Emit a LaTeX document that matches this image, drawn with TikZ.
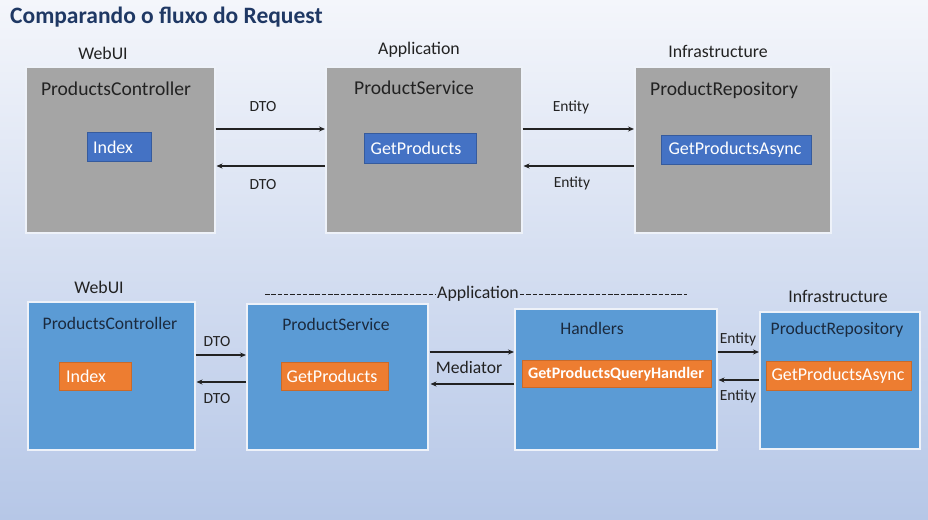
\documentclass[tikz,border=0pt]{standalone}
\usepackage{fontspec}
\setmainfont{Carlito}
\usetikzlibrary{arrows.meta}
\definecolor{bgtop}{HTML}{F4F6FB}
\definecolor{bgbot}{HTML}{B6C7E7}
\definecolor{graybox}{HTML}{A5A5A5}
\definecolor{bluebox}{HTML}{5B9BD5}
\definecolor{innerblue}{HTML}{4472C4}
\definecolor{orangebox}{HTML}{ED7D31}
\definecolor{titlecol}{HTML}{1F3864}
\definecolor{txtdark}{HTML}{222222}
\definecolor{txtnavy}{HTML}{1B2A3E}
\definecolor{boxline}{HTML}{EEF2F9}
\newcommand{\fs}[1]{\fontsize{#1}{#1}\selectfont}
\tikzset{
  grayblk/.style={draw=boxline, line width=1.5pt, fill=graybox, inner sep=0pt, anchor=north west},
  blueblk/.style={draw=boxline, line width=1.5pt, fill=bluebox, inner sep=0pt, anchor=north west},
  innerb/.style={fill=innerblue, draw=innerblue!80!black, line width=0.4pt, inner sep=0pt, anchor=north west},
  innero/.style={fill=orangebox, draw=orangebox!85!black, line width=0.4pt, inner sep=0pt, anchor=north west},
  innertxt/.style={text=white, font=\fs{18}, inner sep=0pt},
  layerlbl/.style={text=txtdark, font=\fs{17.8}, inner sep=0pt},
  ttlgray/.style={text=txtdark, font=\fs{19.6}, inner sep=0pt},
  ttlblue/.style={text=txtnavy, font=\fs{17.6}, inner sep=0pt},
  arlbl/.style={text=txtdark, font=\fs{15.5}, inner sep=0pt},
  arr/.style={draw=txtdark, line width=1.3pt, -{Stealth[length=6pt,width=5pt]}},
}
\begin{document}
\begin{tikzpicture}[x=1pt,y=-1pt]
\useasboundingbox (0,0) rectangle (928,519);
\shade[top color=bgtop, bottom color=bgbot, middle color=bgtop!50!bgbot] (0,0) rectangle (928,519);

% Title
\node[anchor=west, text=titlecol, font=\fs{23.5}\bfseries, inner sep=0pt] (title) at (10,17) {Comparando o fluxo do Request};

% ---------- Top row ----------
\node[layerlbl] (tlw) at (103,53) {WebUI};
\node[layerlbl] (tla) at (419,50) {Application};
\node[layerlbl] (tli) at (718,51) {Infrastructure};

\node[grayblk, minimum width=189pt, minimum height=166pt] (tc) at (25,66) {};
\node[grayblk, minimum width=196pt, minimum height=166pt] (ts) at (325,66) {};
\node[grayblk, minimum width=196pt, minimum height=166pt] (tr) at (634,66) {};

\node[ttlgray] (tct) at (116,89) {ProductsController};
\node[ttlgray] (tst) at (414,88) {ProductService};
\node[ttlgray] (trt) at (724,90) {ProductRepository};

\node[innerb, minimum width=64pt, minimum height=29pt] (tidx) at (87,132) {};
\node[innertxt] at (113,147) {Index};
\node[innerb, minimum width=112pt, minimum height=30pt] (tgp) at (364,133) {};
\node[innertxt] at (416,148) {GetProducts};
\node[innerb, minimum width=150pt, minimum height=29pt] (tgpa) at (661,135) {};
\node[innertxt] at (735,150) {GetProductsAsync};

\coordinate (ya) at (0,129);
\coordinate (yb) at (0,166);
\draw[arr] (tc.east |- ya) -- (ts.west |- ya);
\draw[arr] (ts.west |- yb) -- ([xshift=1pt]tc.east |- yb);
\draw[arr] (ts.east |- ya) -- (tr.west |- ya);
\draw[arr] (tr.west |- yb) -- ([xshift=1pt]ts.east |- yb);
\node[arlbl] (d1) at (263,107) {DTO};
\node[arlbl] (d2) at (263,185) {DTO};
\node[arlbl] (e1) at (571,107) {Entity};
\node[arlbl] (e2) at (572,183) {Entity};

% ---------- Bottom row ----------
\node[layerlbl] (blw) at (99,287) {WebUI};
\node[layerlbl] (bla) at (478,294) {Application};
\draw[txtdark, line width=0.9pt, dash pattern=on 4.5pt off 1.8pt] (265,294.5) -- ([xshift=-1pt]bla.west |- 0,294.5);
\draw[txtdark, line width=0.9pt, dash pattern=on 4.5pt off 1.8pt] ([xshift=1pt]bla.east |- 0,294.5) -- (687,294.5);
\node[layerlbl] (bli) at (838,296) {Infrastructure};

\node[blueblk, minimum width=167pt, minimum height=148pt] (bc) at (27,301) {};
\node[blueblk, minimum width=181pt, minimum height=146pt] (bs) at (246,303) {};
\node[blueblk, minimum width=202pt, minimum height=141pt] (bh) at (514,308) {};
\node[blueblk, minimum width=160pt, minimum height=137pt] (br) at (759,311) {};

\node[ttlblue] (bct) at (110,323) {ProductsController};
\node[ttlblue] (bst) at (336,324) {ProductService};
\node[ttlblue] (bht) at (592,328) {Handlers};
\node[ttlblue] (brt) at (837,330) {ProductRepository};

\node[innero, minimum width=72pt, minimum height=28pt] (bidx) at (59,362) {};
\node[innertxt] at (86,376) {Index};
\node[innero, minimum width=107pt, minimum height=28pt] (bgp) at (281,362) {};
\node[innertxt] at (332,376) {GetProducts};
\node[innero, minimum width=189pt, minimum height=27pt] (bqh) at (522,360) {};
\node[text=white, font=\fs{16}\bfseries, inner sep=0pt] at (616,374) {GetProductsQueryHandler};
\node[innero, minimum width=145pt, minimum height=29pt] (bgpa) at (766,361) {};
\node[innertxt] at (838,376) {GetProductsAsync};

\coordinate (yc) at (0,355);
\coordinate (yd) at (0,382);
\coordinate (ye) at (0,352);
\coordinate (yf) at (0,384);
\coordinate (yg) at (0,352);
\coordinate (yh) at (0,380);
\draw[arr] (bc.east |- yc) -- (bs.west |- yc);
\draw[arr] (bs.west |- yd) -- ([xshift=1pt]bc.east |- yd);
\draw[arr] ([xshift=1pt]bs.east |- ye) -- (bh.west |- ye);
\draw[arr] (bh.west |- yf) -- ([xshift=2pt]bs.east |- yf);
\draw[arr] (bh.east |- yg) -- (br.west |- yg);
\draw[arr] (br.west |- yh) -- ([xshift=1pt]bh.east |- yh);
\node[arlbl] (d3) at (217,342) {DTO};
\node[arlbl] (d4) at (217,399) {DTO};
\node[arlbl, font=\fs{17.6}] (med) at (469,367) {Mediator};
\node[arlbl] (e3) at (738,339) {Entity};
\node[arlbl] (e4) at (738,396) {Entity};
\end{tikzpicture}
\end{document}
